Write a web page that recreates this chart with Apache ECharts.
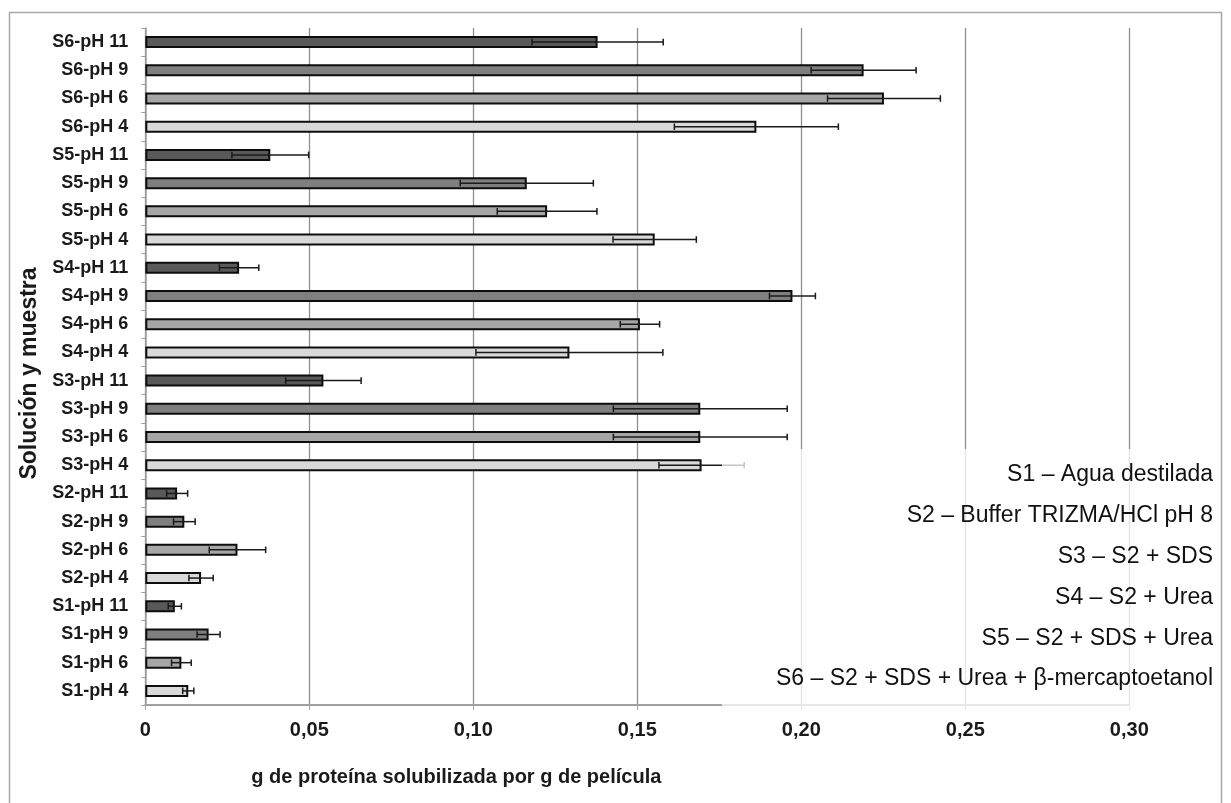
<!DOCTYPE html>
<html>
<head>
<meta charset="utf-8">
<script src="https://cdn.jsdelivr.net/npm/echarts@6/dist/echarts.min.js"></script>
<style>
  html, body { margin: 0; padding: 0; background: #fff; }
  #chart { width: 1231px; height: 803px; }
</style>
</head>
<body>
<div id="chart"></div>
<script>
// Solutions and pH levels that make up the category axis
const solutions = ['S1', 'S2', 'S3', 'S4', 'S5', 'S6'];
const phLevels = ['pH 4', 'pH 6', 'pH 9', 'pH 11'];

// g of soluble protein per g of film, one value per solution (S1..S6)
const meanPH4  = [0.0131, 0.0170, 0.1696, 0.1293, 0.1553, 0.1863];
const meanPH6  = [0.0110, 0.0281, 0.1692, 0.1508, 0.1225, 0.2252];
const meanPH9  = [0.0193, 0.0119, 0.1692, 0.1973, 0.1163, 0.2190];
const meanPH11 = [0.0090, 0.0097, 0.0543, 0.0286, 0.0381, 0.1379];

// Standard deviations (same order)
const errPH4  = [0.0017, 0.0037, 0.0130, 0.0285, 0.0127, 0.0250];
const errPH6  = [0.0030, 0.0086, 0.0265, 0.0060, 0.0152, 0.0172];
const errPH9  = [0.0035, 0.0033, 0.0265, 0.0070, 0.0203, 0.0160];
const errPH11 = [0.0020, 0.0032, 0.0115, 0.0060, 0.0117, 0.0200];

// Key to the solution codes
const legendLines = [
  'S1 \u2013 Agua destilada',
  'S2 \u2013 Buffer TRIZMA/HCl pH 8',
  'S3 \u2013 S2 + SDS',
  'S4 \u2013 S2 + Urea',
  'S5 \u2013 S2 + SDS + Urea',
  'S6 \u2013 S2 + SDS + Urea + \u03b2-mercaptoetanol'
];

const xAxisTitle = 'g de prote\u00edna solubilizada por g de pel\u00edcula';
const yAxisTitle = 'Soluci\u00f3n y muestra';

// ---- build the series from the arrays above ----
const means = [meanPH4, meanPH6, meanPH9, meanPH11];
const errs = [errPH4, errPH6, errPH9, errPH11];
const phFill = ['#d9d9d9', '#a6a6a6', '#7f7f7f', '#595959'];
const FONT = '"Liberation Sans", Arial, Helvetica, sans-serif';

const categories = [];
const barData = [];
const errData = [];
solutions.forEach((s, i) => {
  phLevels.forEach((p, j) => {
    const idx = categories.length;
    categories.push(s + '-' + p);
    barData.push({ value: means[j][i], itemStyle: { color: phFill[j] } });
    errData.push([means[j][i], idx, errs[j][i]]);
  });
});

const chart = echarts.init(document.getElementById('chart'), null, { renderer: 'canvas' });

const legendGraphics = legendLines.map((t, k) => ({
  type: 'text',
  x: 1213,
  y: 475 + k * 40.8,
  z: 60,
  style: {
    text: t,
    fill: '#111',
    font: '23px ' + FONT,
    align: 'right',
    verticalAlign: 'middle'
  }
}));

const option = {
  animation: false,
  backgroundColor: '#fff',
  grid: {
    left: 145.3,
    right: 101.7,
    top: 28,
    bottom: 98,
    containLabel: false,
    outerBoundsMode: 'none'
  },
  xAxis: {
    type: 'value',
    min: 0,
    max: 0.30,
    interval: 0.05,
    name: xAxisTitle,
    nameLocation: 'middle',
    nameGap: 62,
    nameTextStyle: {
      fontFamily: FONT,
      fontSize: 20,
      fontWeight: 'bold',
      color: '#1a1a1a',
      padding: [0, 362, 0, 0]
    },
    axisLine: { show: true, lineStyle: { color: '#a0a0a0', width: 2 } },
    axisTick: { show: true, length: 5, lineStyle: { color: '#a0a0a0', width: 1 } },
    axisLabel: {
      margin: 15,
      fontFamily: FONT,
      fontSize: 20,
      fontWeight: 'bold',
      color: '#1a1a1a',
      formatter: v => (v === 0 ? '0' : v.toFixed(2).replace('.', ','))
    },
    splitLine: { show: true, lineStyle: { color: '#909090', width: 1.3 } }
  },
  yAxis: {
    type: 'category',
    data: categories,
    name: yAxisTitle,
    nameLocation: 'middle',
    nameGap: 103,
    nameRotate: 90,
    nameTextStyle: {
      fontFamily: FONT,
      fontSize: 23,
      fontWeight: 'bold',
      color: '#1a1a1a',
      padding: [0, 14, 0, 0]
    },
    axisLine: { show: true, lineStyle: { color: '#a0a0a0', width: 1.5 } },
    axisTick: { show: true, length: 4, lineStyle: { color: '#a0a0a0' } },
    axisLabel: {
      margin: 17,
      fontFamily: FONT,
      fontSize: 18,
      fontWeight: 'bold',
      color: '#1a1a1a'
    },
    splitLine: { show: false }
  },
  series: [
    {
      type: 'bar',
      data: barData,
      barWidth: 12,
      itemStyle: { borderColor: '#0d0d0d', borderWidth: 2 },
      z: 2
    },
    {
      type: 'custom',
      data: errData,
      encode: { x: 0, y: 1 },
      z: 5,
      renderItem: (params, api) => {
        const v = api.value(0);
        const c = api.value(1);
        const e = api.value(2);
        const lo = api.coord([v - e, c]);
        const hi = api.coord([v + e, c]);
        const h = 3.3;
        const st = { stroke: '#1a1a1a', lineWidth: 1.5 };
        return {
          type: 'group',
          children: [
            { type: 'line', shape: { x1: lo[0], y1: lo[1], x2: hi[0], y2: hi[1] }, style: st },
            { type: 'line', shape: { x1: lo[0], y1: lo[1] - h, x2: lo[0], y2: lo[1] + h }, style: st },
            { type: 'line', shape: { x1: hi[0], y1: hi[1] - h, x2: hi[0], y2: hi[1] + h }, style: st }
          ]
        };
      }
    }
  ],
  graphic: [
    // outer frame of the chart area
    {
      type: 'rect',
      z: 40,
      shape: { x: 9.5, y: 12.5, width: 1212, height: 820 },
      style: { fill: null, stroke: '#a8a8a8', lineWidth: 1.5 }
    },
    // translucent panel behind the key
    {
      type: 'rect',
      z: 50,
      shape: { x: 722, y: 449, width: 498, height: 262 },
      style: { fill: 'rgba(255,255,255,0.75)' }
    }
  ].concat(legendGraphics)
};

chart.setOption(option);
</script>
</body>
</html>
